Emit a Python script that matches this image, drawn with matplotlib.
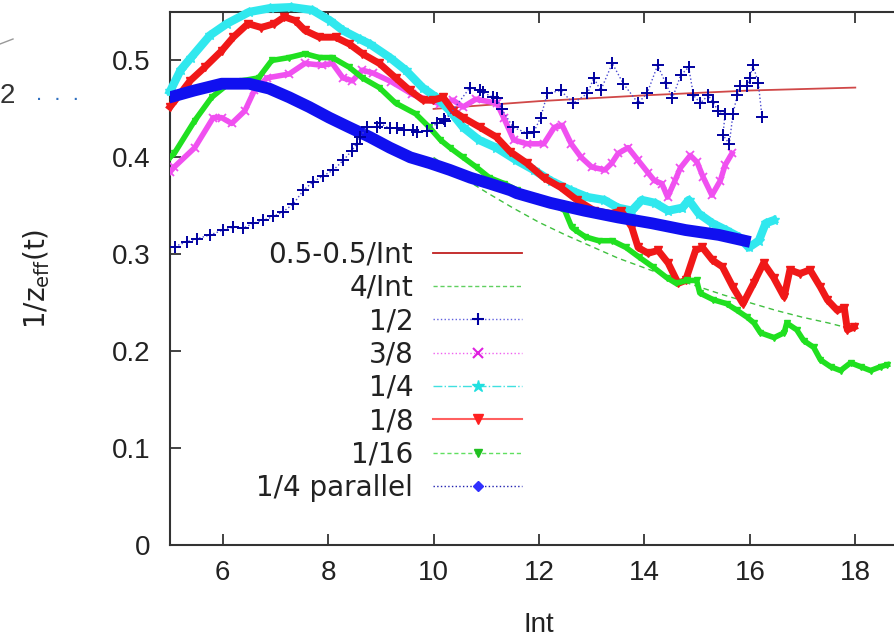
import matplotlib
matplotlib.use("Agg")
import matplotlib.pyplot as plt
from matplotlib.lines import Line2D

plt.rcParams['font.family'] = ['Liberation Sans', 'DejaVu Sans']
plt.rcParams['mathtext.default'] = 'regular'

# 0.5-0.5/Int reference curve
ref_x = [10.0, 12.0, 14.0, 16.0, 18.0]
ref_y = [0.450, 0.458, 0.464, 0.469, 0.472]

# 4/Int reference curve
inv_x = [10.0, 10.5, 11.0, 11.5, 12.0, 12.5, 13.0, 13.5, 14.0, 14.5, 15.0,
         15.5, 16.0, 16.5, 17.0, 17.5, 18.0]
inv_y = [0.400, 0.381, 0.364, 0.348, 0.333, 0.320, 0.308, 0.296, 0.286, 0.276,
         0.267, 0.258, 0.250, 0.242, 0.235, 0.229, 0.222]

# 1/2
half_x = [5.09, 5.32, 5.51, 5.76, 6.01, 6.2, 6.39, 6.58, 6.77, 6.96, 7.15, 7.34, 7.53,
          7.72, 7.91, 8.1, 8.29, 8.45, 8.54, 8.61, 8.73, 8.92, 8.98, 9.17, 9.3, 9.43,
          9.61, 9.68, 9.87, 10.06, 10.19, 10.22, 10.69, 10.88, 10.94, 11.13, 11.2, 11.29,
          11.51, 11.77, 11.9, 12.03, 12.16, 12.41, 12.65, 12.92, 13.04, 13.17, 13.39,
          13.6, 13.88, 14.05, 14.25, 14.4, 14.53, 14.69, 14.84, 14.93, 15.06, 15.21,
          15.3, 15.4, 15.53, 15.49, 15.61, 15.68, 15.76, 15.82, 15.95, 16.0, 16.06,
          16.16, 16.23]
half_y = [0.308, 0.313, 0.316, 0.320, 0.325, 0.328, 0.327, 0.332, 0.335, 0.339, 0.344,
          0.352, 0.366, 0.375, 0.381, 0.387, 0.397, 0.407, 0.414, 0.421, 0.431, 0.431,
          0.435, 0.430, 0.430, 0.428, 0.428, 0.426, 0.427, 0.435, 0.440, 0.438, 0.472,
          0.469, 0.467, 0.462, 0.461, 0.450, 0.431, 0.425, 0.426, 0.441, 0.466, 0.469,
          0.456, 0.466, 0.482, 0.469, 0.497, 0.476, 0.456, 0.466, 0.495, 0.477, 0.461,
          0.485, 0.493, 0.464, 0.456, 0.464, 0.457, 0.448, 0.445, 0.423, 0.414, 0.445,
          0.464, 0.474, 0.474, 0.482, 0.495, 0.477, 0.442]

# 3/8
s38_x = [5.0, 5.08, 5.47, 5.82, 5.98, 6.17, 6.42, 6.6, 6.84, 7.26, 7.56, 7.89, 8.08,
         8.28, 8.46, 8.65, 8.85, 9.2, 9.6, 10.13, 10.37, 10.56, 10.8, 11.2, 11.33,
         11.52, 11.77, 12.09, 12.29, 12.44, 12.61, 12.8, 13.0, 13.25, 13.38, 13.5,
         13.69, 13.88, 14.07, 14.19, 14.33, 14.44, 14.58, 14.68, 14.87, 15.0, 15.11,
         15.28, 15.44, 15.53, 15.66]
s38_y = [0.385, 0.390, 0.410, 0.441, 0.441, 0.435, 0.448, 0.469, 0.482, 0.486, 0.497,
         0.495, 0.497, 0.482, 0.479, 0.490, 0.487, 0.478, 0.465, 0.455, 0.459, 0.452,
         0.460, 0.456, 0.441, 0.418, 0.414, 0.414, 0.431, 0.433, 0.414, 0.400, 0.390,
         0.387, 0.394, 0.404, 0.410, 0.397, 0.384, 0.376, 0.373, 0.359, 0.376, 0.389,
         0.402, 0.395, 0.380, 0.361, 0.376, 0.392, 0.404]

# 1/4
q_x = [5.0, 5.2, 5.4, 5.76, 6.08, 6.5, 6.9, 7.3, 7.7, 8.04, 8.28, 8.6, 8.79, 9.17,
       9.47, 9.79, 10.05, 10.31, 10.56, 10.86, 11.19, 11.57, 11.9, 12.22, 12.6, 12.92,
       13.24, 13.5, 13.76, 13.95, 14.2, 14.45, 14.72, 14.84, 15.03, 15.29, 15.55,
       15.79, 15.98, 16.17, 16.3, 16.45]
q_y = [0.468, 0.490, 0.503, 0.526, 0.538, 0.550, 0.554, 0.555, 0.552, 0.541, 0.531,
       0.522, 0.517, 0.503, 0.490, 0.472, 0.462, 0.448, 0.431, 0.418, 0.410, 0.397,
       0.387, 0.376, 0.366, 0.359, 0.356, 0.348, 0.345, 0.356, 0.353, 0.345, 0.348,
       0.356, 0.342, 0.332, 0.325, 0.318, 0.307, 0.314, 0.332, 0.335]

# 1/8
e_x = [5.0, 5.1, 5.38, 5.66, 5.98, 6.2, 6.48, 6.73, 6.98, 7.17, 7.38, 7.56, 7.83,
       8.14, 8.4, 8.65, 8.97, 9.28, 9.55, 9.8, 9.99, 10.18, 10.37, 10.56, 10.88, 11.19,
       11.45, 11.77, 12.09, 12.41, 12.72, 13.05, 13.37, 13.56, 13.76, 13.88, 14.07,
       14.26, 14.45, 14.64, 14.78, 14.97, 15.1, 15.29, 15.48, 15.68, 15.87, 16.07,
       16.26, 16.45, 16.65, 16.76, 16.95, 17.14, 17.34, 17.47, 17.66, 17.79, 17.85,
       17.98]
e_y = [0.452, 0.459, 0.479, 0.493, 0.510, 0.524, 0.538, 0.534, 0.538, 0.545, 0.541,
       0.531, 0.524, 0.524, 0.517, 0.507, 0.497, 0.482, 0.469, 0.459, 0.459, 0.462,
       0.448, 0.441, 0.431, 0.421, 0.406, 0.394, 0.379, 0.369, 0.356, 0.345, 0.342,
       0.345, 0.328, 0.307, 0.301, 0.304, 0.291, 0.270, 0.273, 0.304, 0.307, 0.294,
       0.287, 0.266, 0.249, 0.270, 0.291, 0.276, 0.256, 0.284, 0.280, 0.284, 0.266,
       0.253, 0.242, 0.245, 0.222, 0.225]

# 1/16
s_x = [5.0, 5.08, 5.47, 5.79, 6.11, 6.36, 6.68, 6.93, 7.26, 7.56, 7.83, 8.08, 8.4,
       8.65, 8.97, 9.28, 9.66, 9.92, 10.13, 10.31, 10.56, 10.81, 11.06, 11.34, 11.59,
       11.92, 12.24, 12.49, 12.62, 12.69, 12.88, 13.13, 13.39, 13.65, 13.9, 14.16,
       14.42, 14.6, 14.8, 14.99, 15.05, 15.31, 15.56, 15.76, 15.95, 16.08, 16.2, 16.46,
       16.65, 16.7, 16.89, 17.02, 17.21, 17.34, 17.53, 17.72, 17.91, 18.1, 18.29,
       18.48, 18.61]
s_y = [0.400, 0.404, 0.438, 0.462, 0.476, 0.479, 0.482, 0.500, 0.503, 0.507, 0.503,
       0.503, 0.493, 0.482, 0.472, 0.456, 0.445, 0.431, 0.418, 0.410, 0.400, 0.390,
       0.379, 0.373, 0.366, 0.359, 0.353, 0.345, 0.328, 0.325, 0.318, 0.314, 0.314,
       0.307, 0.297, 0.287, 0.276, 0.270, 0.273, 0.273, 0.260, 0.253, 0.249, 0.242,
       0.235, 0.229, 0.219, 0.214, 0.219, 0.229, 0.222, 0.211, 0.204, 0.191, 0.184,
       0.180, 0.188, 0.184, 0.180, 0.184, 0.186]

# 1/4 parallel
par_x = [5.0, 5.46, 5.98, 6.5, 6.88, 7.26, 7.64, 8.02, 8.4, 8.79, 9.17, 9.56, 9.93,
         10.31, 10.7, 11.06, 11.46, 11.58, 12.22, 12.86, 13.5, 14.14, 14.78, 15.41,
         15.9]
par_y = [0.462, 0.469, 0.476, 0.476, 0.471, 0.462, 0.452, 0.441, 0.431, 0.421, 0.410,
         0.400, 0.394, 0.387, 0.379, 0.373, 0.366, 0.363, 0.353, 0.345, 0.338, 0.332,
         0.325, 0.320, 0.314]

fig = plt.figure(figsize=(8.95, 6.38), dpi=100)
# the original picture is cut off at the right, so the axes run past the edge
ax = fig.add_axes([170 / 895, 1 - 545 / 638, 738 / 895, 533 / 638])

ax.plot(ref_x, ref_y, color='#d04848', lw=1.3, zorder=2)
ax.plot(inv_x, inv_y, color='#40c040', lw=1.0, ls=(0, (4, 3)), zorder=2)
ax.plot(half_x, half_y, color='#4a4ad0', lw=1.0, ls=':', marker='+', ms=9, mew=1.4,
        mec='#0000a0', zorder=6)
ax.plot(s38_x, s38_y, color='#f050f0', lw=4, marker='x', ms=6, mew=1.3, zorder=3)
ax.plot(q_x, q_y, color='#30e8ee', lw=6, marker='*', ms=7, zorder=3, clip_on=False)
ax.plot(e_x, e_y, color='#f01818', lw=5, marker='v', ms=6, zorder=4, clip_on=False)
ax.plot(s_x, s_y, color='#20e020', lw=4, marker='v', ms=5, zorder=4)
ax.plot(par_x, par_y, color='#1010f0', lw=8.5, marker='D', ms=4, zorder=5)

ax.set_xlim(5, 19)
ax.set_ylim(0, 0.55)
ax.set_xticks([6, 8, 10, 12, 14, 16, 18])
ax.set_yticks([0, 0.1, 0.2, 0.3, 0.4, 0.5])
ax.set_yticklabels(['0', '0.1', '0.2', '0.3', '0.4', '0.5'])
ax.tick_params(direction='in', top=True, right=True, length=8, width=1.2,
               labelsize=20, colors='#222222')
ax.tick_params(axis='y', pad=14)
ax.tick_params(axis='x', pad=11)
for sp in ax.spines.values():
    sp.set_color('#333333')
    sp.set_linewidth(1.5)

ax.set_xlabel('Int', fontsize=20, color='#222222')
ax.xaxis.set_label_coords(0.5, -0.125)
ax.set_ylabel('1/z$_{eff}$(t)', fontsize=20, color='#222222', family='DejaVu Sans')
ax.yaxis.set_label_coords(-0.16, 0.5)

handles = [
    Line2D([], [], color='#c02020', lw=1.3),
    Line2D([], [], color='#60d060', lw=1.0, ls=(0, (3, 2))),
    Line2D([], [], color='#6060e0', lw=1.0, ls=':', marker='+', ms=9, mew=1.5, mec='#0000a0'),
    Line2D([], [], color='#f060f0', lw=1.0, ls=':', marker='x', ms=7, mew=1.5, mec='#e020e0'),
    Line2D([], [], color='#40e0e0', lw=1.0, ls='-.', marker='*', ms=9, mec='#20e0e0', mfc='#20e0e0'),
    Line2D([], [], color='#ff6060', lw=1.5, marker='v', ms=7, mec='#ff2020', mfc='#ff2020'),
    Line2D([], [], color='#60e060', lw=1.0, ls=(0, (3, 2)), marker='v', ms=6, mec='#20c020', mfc='#20c020'),
    Line2D([], [], color='#2020b0', lw=1.0, ls=':', marker='D', ms=5, mec='#3030ff', mfc='#3030ff'),
]
labels = ['0.5-0.5/Int', '4/Int', '1/2', '3/8', '1/4', '1/8', '1/16', '1/4 parallel']
leg = ax.legend(handles, labels, loc='upper right', bbox_to_anchor=(0.477, 0.571),
                markerfirst=False, frameon=False, numpoints=1,
                prop={'family': 'DejaVu Sans', 'size': 20},
                handlelength=3.2, handletextpad=0.72, labelspacing=0.19,
                borderpad=0, borderaxespad=0)
for t in leg.get_texts():
    t.set_color('#222222')

# stray bits of the neighbouring figure visible in the screenshot
fig.text(0.0, 1 - 103 / 638, '2', fontsize=20, color='#333333')
fig.text(36 / 895, 1 - 100 / 638, '.  .  .', fontsize=16, color='#3070c0')
fig.add_artist(Line2D([0, 13 / 895], [1 - 44 / 638, 1 - 39 / 638], color='#999999', lw=1))

fig.savefig('out.png', dpi=100)
